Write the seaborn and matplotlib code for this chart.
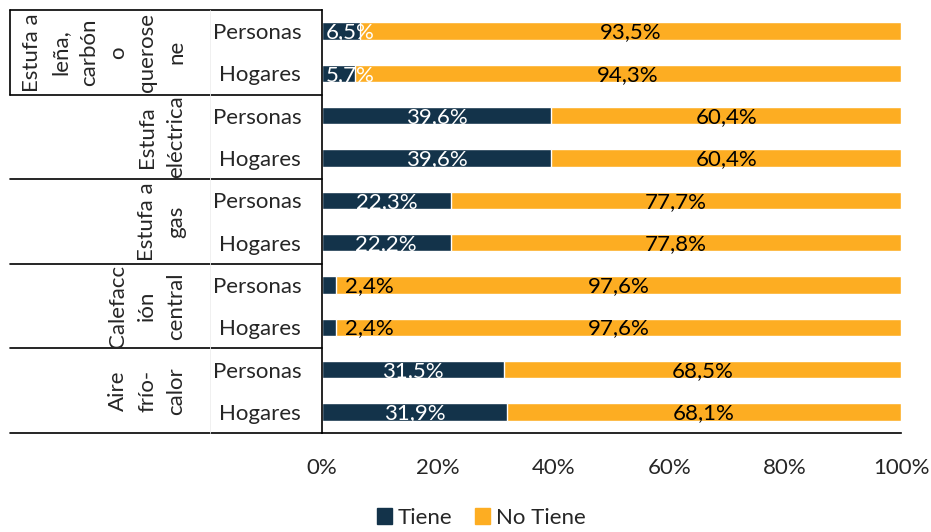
import pandas as pd
import matplotlib.pyplot as plt
import matplotlib.transforms as mtransforms
from matplotlib.patches import Patch
import seaborn as sns

# chart data
groups = ["Estufa a\nleña,\ncarbón\no\nquerose\nne", "Estufa\neléctrica",
          "Estufa a\ngas", "Calefacc\nión\ncentral", "Aire\nfrío-\ncalor"]
rows = ["Personas", "Hogares"] * 5
tiene = [6.5, 5.7, 39.6, 39.6, 22.3, 22.2, 2.4, 2.4, 31.5, 31.9]
no_tiene = [93.5, 94.3, 60.4, 60.4, 77.7, 77.8, 97.6, 97.6, 68.5, 68.1]

navy = "#13334A"
orange = "#FDAD22"

sns.set_style("white")
plt.rcParams["font.family"] = ["Lato", "DejaVu Sans"]
fs = 16

df = pd.DataFrame({
    "row": [str(i) for i in range(len(rows))],
    "tiene": tiene,
    "total": [a + b for a, b in zip(tiene, no_tiene)],
})

fig = plt.figure(figsize=(9.31, 5.32), dpi=100)
ax = fig.add_axes([322 / 931, 1 - 433 / 532, 579 / 931, 423 / 532])

sns.barplot(data=df, x="total", y="row", orient="h", color=orange,
            width=0.41, saturation=1, ax=ax)
sns.barplot(data=df, x="tiene", y="row", orient="h", color=navy,
            width=0.41, saturation=1, ax=ax)

ax.set_xlim(0, 100)
ax.set_ylim(9.5, -0.5)
ax.set_xticks([0, 20, 40, 60, 80, 100])
ax.set_xticklabels([f"{v}%" for v in range(0, 101, 20)], fontsize=fs)
ax.set_yticks(range(len(rows)))
ax.set_yticklabels(rows, fontsize=fs)
ax.set_xlabel("")
ax.set_ylabel("")
ax.tick_params(axis="x", length=5, width=1, color="black", direction="out",
               pad=13)
ax.tick_params(axis="y", length=0, pad=15)
for s in ["top", "right"]:
    ax.spines[s].set_visible(False)
for s in ["left", "bottom"]:
    ax.spines[s].set_color("black")
    ax.spines[s].set_linewidth(1.2)

# value labels
for i, (t, n) in enumerate(zip(tiene, no_tiene)):
    tl = f"{t:.1f}%".replace(".", ",")
    nl = f"{n:.1f}%".replace(".", ",")
    if t < 5:
        ax.text(t + 1.6, i + 0.03, tl, ha="left", va="center", fontsize=fs,
                color="black")
    elif t < 10:
        ax.text(0.6, i + 0.03, tl, ha="left", va="center", fontsize=fs,
                color="white")
    else:
        ax.text(t / 2, i + 0.03, tl, ha="center", va="center", fontsize=fs,
                color="white")
    ax.text(t + n / 2, i + 0.03, nl, ha="center", va="center", fontsize=fs,
            color="black")

# multi-level category table on the left
trans = mtransforms.blended_transform_factory(ax.transAxes, ax.transData)
x_left = (10 - 322) / 579
x_mid = (210 - 322) / 579
for b in [-0.5, 1.5, 3.5, 5.5, 7.5, 9.5]:
    ax.plot([x_left, 0], [b, b], color="black", lw=1.2, transform=trans,
            clip_on=False)
ax.plot([x_left, x_left], [-0.5, 1.5], color="black", lw=1.2,
        transform=trans, clip_on=False)
ax.plot([x_mid, x_mid], [-0.5, 9.5], color="#EEEEEE", lw=0.6,
        transform=trans, clip_on=False)
x_grp = (186 - 322) / 579
for g, name in enumerate(groups):
    ax.text(x_grp, 2 * g + 0.5, name, rotation=90, ha="right", va="center",
            multialignment="center", fontsize=fs, linespacing=1.55,
            transform=trans)

handles = [Patch(color=navy, label="Tiene"), Patch(color=orange, label="No Tiene")]
fig.legend(handles=handles, loc="center", bbox_to_anchor=(0.517, 0.027),
           ncol=2, frameon=False, fontsize=fs, handlelength=0.7,
           handleheight=0.7, handletextpad=0.25, columnspacing=1.0)

fig.savefig("out.png", dpi=100)
